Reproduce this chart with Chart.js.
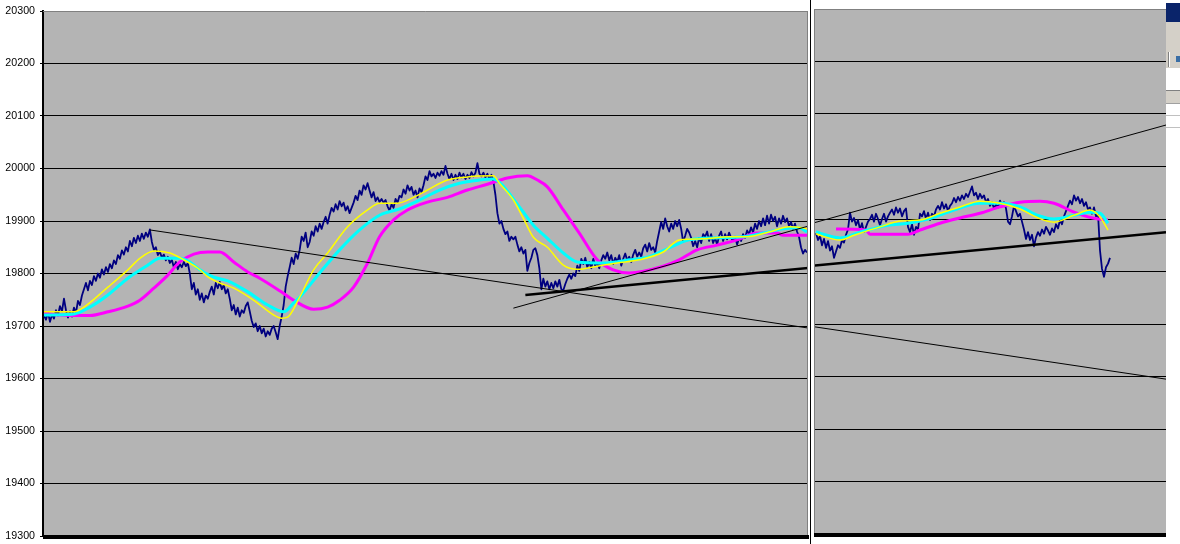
<!DOCTYPE html>
<html><head><meta charset="utf-8">
<script src="https://cdn.jsdelivr.net/npm/chart.js@4/dist/chart.umd.min.js"></script>
<style>
html,body{margin:0;padding:0;background:#fff;width:1180px;height:544px;overflow:hidden;}
#wrap{position:relative;width:1180px;height:544px;}
canvas{position:absolute;top:0;}
#cL{left:0;width:810px;height:544px;}
#cR{left:812px;width:354px;height:544px;}
.ui{position:absolute;left:1166px;width:14px;}
</style></head><body>
<div id="wrap">
<canvas id="cL" width="810" height="544"></canvas>
<canvas id="cR" width="354" height="544"></canvas>
<div style="position:absolute;left:810px;top:0;width:1px;height:544px;background:#000"></div>
<div class="ui" style="top:0;height:3px;background:#fff"></div>
<div class="ui" style="top:3px;height:19px;background:#0a246a"></div>
<div class="ui" style="top:22px;height:46px;background:#d4d0c8"></div>
<div style="position:absolute;left:1168px;top:52px;width:1px;height:15px;background:#808080"></div>
<div style="position:absolute;left:1169px;top:52px;width:1px;height:15px;background:#fff"></div>
<div style="position:absolute;left:1176px;top:56px;width:4px;height:6px;background:#3a6ea5"></div>
<div class="ui" style="top:68px;height:22px;background:#fff"></div>
<div class="ui" style="top:90px;height:1px;background:#808080"></div>
<div class="ui" style="top:91px;height:12px;background:#d4d0c8"></div>
<div class="ui" style="top:103px;height:441px;background:#fff"></div>
<div class="ui" style="top:103px;height:1px;background:#a0a0a0"></div>
<div class="ui" style="top:115px;height:1px;background:#c0c0c0"></div>
<div class="ui" style="top:127px;height:1px;background:#c0c0c0"></div>
</div>
<script>
// ---- axis ----
const yMin = 19300, yMax = 20300, yStep = 100;

// ---- price (one value per bar), left session bars 0..382, right session from bar 386 ----
const priceLeft = [
19720,19712,19726,19708,19722,19714,19730,19720,19738,19728,
19752,19730,19716,19728,19718,19735,19725,19748,19740,19758,
19770,19782,19768,19786,19778,19795,19786,19800,19792,19808,
19798,19812,19803,19818,19810,19825,19818,19835,19828,19844,
19836,19850,19842,19862,19852,19868,19858,19872,19862,19876,
19866,19878,19870,19884,19860,19845,19850,19835,19842,19830,
19836,19825,19832,19820,19826,19812,19822,19808,19818,19812,
19822,19814,19820,19800,19770,19782,19760,19770,19750,19762,
19745,19758,19752,19765,19775,19760,19782,19772,19784,19770,
19778,19762,19770,19752,19730,19740,19722,19735,19718,19730,
19725,19738,19745,19728,19710,19698,19705,19690,19700,19686,
19695,19680,19690,19683,19695,19700,19688,19675,19700,19718,
19740,19775,19795,19812,19830,19818,19838,19828,19845,19870,
19862,19878,19850,19860,19880,19872,19890,19880,19895,19885,
19898,19908,19895,19912,19925,19918,19932,19922,19938,19928,
19935,19920,19928,19915,19925,19935,19948,19940,19958,19950,
19968,19960,19972,19958,19945,19955,19938,19945,19936,19942,
19935,19940,19928,19920,19932,19925,19942,19935,19948,19945,
19960,19952,19968,19958,19965,19950,19958,19945,19962,19955,
19968,19985,19978,19995,19985,19990,19982,19992,19986,19995,
19988,20005,19990,19980,19990,19978,19988,19980,19992,19983,
19990,19980,19988,19982,19993,19985,19992,20010,19990,19985,
19992,19983,19990,19980,19988,19975,19950,19915,19895,19900,
19885,19875,19880,19862,19870,19865,19870,19855,19842,19850,
19838,19845,19805,19820,19830,19845,19848,19835,19810,19770,
19790,19775,19785,19770,19782,19772,19785,19775,19788,19770,
19768,19780,19790,19798,19790,19800,19795,19815,19805,19828,
19818,19830,19812,19822,19810,19828,19815,19820,19810,19825,
19835,19828,19840,19825,19835,19818,19830,19822,19835,19815,
19828,19838,19825,19832,19822,19836,19845,19832,19840,19832,
19848,19855,19842,19858,19845,19850,19840,19862,19880,19898,
19885,19905,19890,19880,19895,19885,19900,19890,19902,19885,
19860,19872,19885,19878,19868,19852,19862,19850,19868,19858,
19875,19870,19880,19862,19875,19858,19868,19855,19872,19880,
19862,19875,19865,19878,19868,19862,19870,19855,19868,19862,
19875,19868,19882,19875,19888,19878,19895,19885,19900,19890,
19905,19892,19910,19895,19912,19900,19908,19890,19905,19895,
19910,19898,19905,19890,19898,19885,19895,19880,19870,19850,
19838,19845,19840];
const rightStartBar = 386;
const priceRight = [
19873,19860,19868,19850,19862,19845,19858,19840,19848,19826,
19838,19850,19845,19860,19855,19870,19880,19912,19895,19902,
19888,19898,19880,19892,19875,19885,19895,19900,19908,19895,
19910,19900,19888,19900,19910,19895,19905,19912,19918,19908,
19922,19912,19920,19905,19915,19920,19885,19875,19890,19870,
19885,19880,19910,19905,19915,19900,19912,19898,19910,19905,
19918,19925,19918,19932,19920,19928,19915,19925,19930,19940,
19932,19942,19935,19945,19938,19948,19942,19952,19962,19945,
19950,19938,19948,19940,19945,19932,19938,19925,19932,19920,
19928,19922,19935,19925,19932,19920,19895,19890,19905,19925,
19915,19905,19910,19895,19880,19862,19875,19860,19870,19848,
19865,19875,19868,19880,19872,19885,19878,19870,19882,19875,
19890,19882,19898,19890,19905,19915,19925,19935,19928,19945,
19935,19942,19930,19938,19925,19932,19918,19922,19910,19922,
19905,19910,19840,19805,19790,19808,19815,19826];

// ---- moving averages (bar, value) ----
const maShortBars = [0,15,20,32,42,48,55,63,70,77,83,88,95,105,115,119,122,128,135,142,152,162,168,177,185,192,202,212,225,228,235,240,245,252,260,267,277,287,298,310,318,330,343,352,363,373,380,382,
  386,388,398,405,418,428,438,448,458,468,478,488,497,505,515,523,528,532];
const maShortVals = [19727,19727,19736,19774,19807,19829,19843,19839,19826,19810,19791,19782,19772,19749,19721,19715,19717,19755,19807,19839,19889,19921,19934,19934,19945,19959,19978,19984,19986,19972,19940,19905,19869,19850,19816,19808,19814,19820,19826,19841,19864,19866,19870,19870,19879,19889,19887,19885,
  19872,19869,19860,19869,19885,19896,19898,19911,19923,19934,19930,19919,19902,19894,19907,19917,19904,19879];

const maMidBars = [0,15,23,32,42,52,58,68,73,78,85,92,102,112,120,125,128,138,148,158,168,178,188,198,208,218,225,228,238,245,252,260,267,280,293,303,313,323,337,350,360,370,378,382,
  386,388,398,408,422,432,442,455,468,478,488,497,505,515,523,528,532];
const maMidVals = [19721,19723,19736,19759,19791,19816,19829,19829,19822,19807,19793,19786,19765,19740,19727,19744,19755,19801,19845,19883,19911,19923,19940,19959,19972,19978,19980,19974,19927,19892,19867,19839,19822,19820,19826,19832,19849,19864,19868,19870,19877,19885,19887,19879,
  19876,19873,19864,19875,19888,19892,19900,19917,19930,19930,19923,19907,19900,19907,19913,19911,19892];

const maLongBars = [0,8,23,32,42,48,55,62,68,75,82,88,95,102,108,118,125,135,142,148,155,162,168,175,182,192,202,212,222,232,242,247,252,260,268,277,285,293,310,318,327,337,347,357,367,370,382,
  396,411,413,432,438,448,458,468,478,488,498,505,515,522,527,532];
const maLongVals = [19725,19721,19720,19727,19738,19749,19772,19797,19822,19837,19841,19841,19822,19803,19791,19767,19749,19732,19736,19749,19774,19820,19870,19902,19921,19936,19945,19959,19970,19982,19986,19978,19965,19921,19877,19826,19807,19801,19814,19826,19845,19854,19864,19877,19877,19873,19873,
  19881,19879,19871,19871,19879,19892,19902,19911,19923,19932,19934,19930,19913,19904,19900,19898];

// ---- trend lines (start bar, end bar) / (start value, end value) ----
const trendBars = [[53, 561], [235, 561], [241, 561]];
const trendVals = [[19883, 19595], [19734, 20079], [19759, 19875]];
const trendWidths = [1, 1, 2.5];

// ---- build ----
const pricePts = priceLeft.map((v, i) => ({x: i, y: v}))
  .concat(priceRight.map((v, i) => ({x: rightStartBar + i, y: v})));
const zip = (b, v) => b.map((x, i) => ({x, y: v[i]}));

function makeDatasets(lo, hi) {
  const inR = p => p.x >= lo - 1 && p.x <= hi + 1;
  const smooth = {cubicInterpolationMode: 'monotone'};
  const ds = [
    {data: pricePts.filter(inR), borderColor: '#000080', borderWidth: 1.8, order: 10},
    Object.assign({data: zip(maLongBars, maLongVals).filter(inR), borderColor: '#ff00ff', borderWidth: 3, order: 6}, smooth),
    Object.assign({data: zip(maMidBars, maMidVals).filter(inR), borderColor: '#00ffff', borderWidth: 3, order: 5}, smooth),
    Object.assign({data: zip(maShortBars, maShortVals).filter(inR), borderColor: '#ffff00', borderWidth: 1.5, order: 4}, smooth)
  ];
  trendBars.forEach((b, i) => ds.push({data: zip(b, trendVals[i]), borderColor: '#000', borderWidth: trendWidths[i], order: 1}));
  return ds.map(d => Object.assign({pointRadius: 0, tension: 0, fill: false, clip: 0, borderJoinStyle: 'round'}, d));
}

const deco = {
  id: 'deco',
  beforeDraw(chart, args, o) {
    const {ctx, chartArea: a} = chart;
    ctx.save();
    ctx.fillStyle = '#b4b4b4';
    ctx.fillRect(a.left, a.top, a.right - a.left, a.bottom - a.top);
    ctx.restore();
  },
  afterDraw(chart, args, o) {
    const {ctx, chartArea: a} = chart;
    ctx.save();
    ctx.strokeStyle = '#808080';
    ctx.lineWidth = 1;
    ctx.beginPath();
    ctx.moveTo(a.left, a.top + 0.5);
    ctx.lineTo(a.right, a.top + 0.5);
    if (o.rightEdge) { ctx.moveTo(a.right - 0.5, a.top); ctx.lineTo(a.right - 0.5, a.bottom); }
    if (o.leftEdge) { ctx.moveTo(a.left - 0.5, a.top); ctx.lineTo(a.left - 0.5, a.bottom); }
    ctx.stroke();
    ctx.fillStyle = '#000';
    ctx.fillRect(a.left - (o.leftEdge ? 1 : 0), a.bottom - 1, a.right - a.left + 1, 4);
    ctx.restore();
  }
};

Chart.defaults.font.family = "'Liberation Sans', Arial, sans-serif";

function makeChart(id, lo, hi, pad, isLeft) {
  return new Chart(document.getElementById(id), {
    type: 'line',
    data: {datasets: makeDatasets(lo, hi)},
    options: {
      responsive: false, animation: false, devicePixelRatio: 1,
      layout: {padding: pad},
      plugins: {legend: {display: false}, tooltip: {enabled: false}, deco: {leftEdge: !isLeft, rightEdge: isLeft}},
      scales: {
        x: {type: 'linear', min: lo, max: hi, display: false},
        y: {
          min: yMin, max: yMax,
          afterFit: s => { s.width = isLeft ? 43 : 0; s.paddingTop = 0; s.paddingBottom = 0; },
          ticks: {display: isLeft, stepSize: yStep, color: '#000', padding: 5, font: {size: 10.67},
                  callback: v => String(v)},
          grid: {
            color: c => (c.tick && (c.tick.value === yMin || c.tick.value === yMax)) ? 'rgba(0,0,0,0)' : '#000',
            tickColor: '#000', tickLength: 3, drawTicks: isLeft, lineWidth: 1
          },
          border: {display: isLeft, color: '#000', width: 2}
        }
      }
    },
    plugins: [deco]
  });
}

makeChart('cL', -0.5, 382.5, {left: 0, top: 11, right: 2, bottom: 8}, true);
makeChart('cR', 385.5, 561, {left: 3, top: 9, right: 0, bottom: 10}, false);
</script>
</body></html>
